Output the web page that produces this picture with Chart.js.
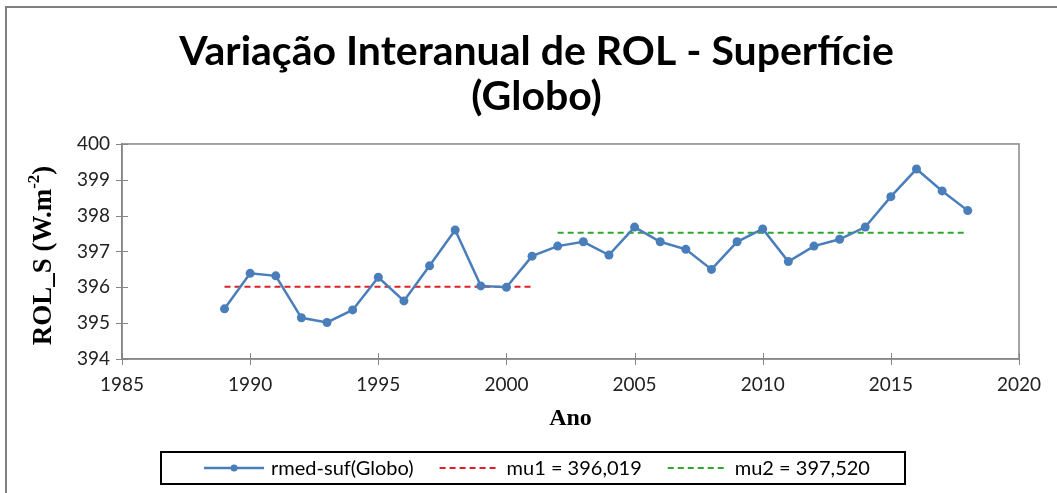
<!DOCTYPE html>
<html>
<head>
<meta charset="utf-8">
<title>Variação Interanual de ROL - Superfície (Globo)</title>
<script src="https://cdn.jsdelivr.net/npm/chart.js@4/dist/chart.umd.min.js"></script>
<style>
  html, body { margin: 0; padding: 0; background: #fff; }
  #wrap { width: 1057px; height: 493px; }
</style>
</head>
<body>
<div id="wrap"><canvas id="chart-rol" width="1057" height="493"></canvas></div>
<script>
// Série anual de ROL à superfície (média global)
const anos = [1989, 1990, 1991, 1992, 1993, 1994, 1995, 1996, 1997, 1998,
              1999, 2000, 2001, 2002, 2003, 2004, 2005, 2006, 2007, 2008,
              2009, 2010, 2011, 2012, 2013, 2014, 2015, 2016, 2017, 2018];
const rmedSuf = [395.40, 396.39, 396.32, 395.15, 395.02, 395.37, 396.28, 395.62, 396.60, 397.60,
                 396.04, 396.00, 396.87, 397.15, 397.27, 396.90, 397.68, 397.27, 397.06, 396.50,
                 397.27, 397.63, 396.72, 397.15, 397.34, 397.68, 398.53, 399.30, 398.69, 398.14];

// Médias dos dois períodos
const mu1 = 396.019;
const mu1Periodo = [1989, 2001];
const mu2 = 397.520;
const mu2Periodo = [2002, 2018];

const anosTicks = [1985, 2020];
const rolTicks = [394, 400];

const AXIS_GRAY = '#868686';
const fmt = v => v.toFixed(3).replace('.', ',');

// Moldura, marcas cruzadas, títulos dos eixos e legenda em caixa
const excelFrame = {
    id: 'excelFrame',
    beforeDraw(chart) {
        const c = chart.ctx;
        c.save();
        c.fillStyle = '#fff';
        c.fillRect(0, 0, chart.width, chart.height);
        c.strokeStyle = '#7f7f7f';
        c.lineWidth = 2;
        c.strokeRect(6, 7, chart.width + 20, chart.height + 20);
        c.restore();
    },
    afterDatasetsDraw(chart) {
        const c = chart.ctx;
        const a = chart.chartArea;
        const xs = chart.scales.x, ys = chart.scales.y;
        c.save();
        c.strokeStyle = AXIS_GRAY;
        c.lineWidth = 1.5;
        c.strokeRect(a.left, a.top, a.right - a.left, a.bottom - a.top);
        c.lineWidth = 1;
        c.beginPath();
        ys.ticks.forEach(t => {
            const y = Math.round(ys.getPixelForValue(t.value)) + 0.5;
            c.moveTo(a.left - 6, y); c.lineTo(a.left + 6, y);
        });
        xs.ticks.forEach(t => {
            const x = Math.round(xs.getPixelForValue(t.value)) + 0.5;
            c.moveTo(x, a.bottom - 6); c.lineTo(x, a.bottom + 6);
        });
        c.stroke();
        c.restore();
    },
    afterDraw(chart) {
        const c = chart.ctx;
        const a = chart.chartArea;
        c.save();
        c.fillStyle = '#000';

        // eixo x
        c.font = 'bold 24px "Liberation Serif"';
        c.textAlign = 'center';
        c.textBaseline = 'middle';
        c.fillText('Ano', (a.left + a.right) / 2, 419);

        // eixo y, com expoente
        c.save();
        c.translate(44, (a.top + a.bottom) / 2 + 4);
        c.rotate(-Math.PI / 2);
        const main = 'ROL_S (W.m', sup = '-2', tail = ')';
        const fMain = 'bold 27px "Liberation Serif"', fSup = 'bold 17px "Liberation Serif"';
        c.font = fMain; const w1 = c.measureText(main).width, w3 = c.measureText(tail).width;
        c.font = fSup; const w2 = c.measureText(sup).width;
        let x = -(w1 + w2 + w3) / 2;
        c.textAlign = 'left';
        c.font = fMain; c.fillText(main, x, 0); x += w1;
        c.font = fSup; c.fillText(sup, x, -9); x += w2;
        c.font = fMain; c.fillText(tail, x, 0);
        c.restore();

        // legenda
        const box = { left: 161, top: 452, width: 744, height: 32 };
        c.strokeStyle = '#000';
        c.lineWidth = 2;
        c.strokeRect(box.left, box.top, box.width, box.height);
        c.font = '20px Lato';
        c.textAlign = 'left';
        c.textBaseline = 'middle';
        const symW = 60, symGap = 7, itemGap = 26;
        const items = chart.data.datasets.map(ds => ({ ds, w: c.measureText(ds.label).width }));
        const total = items.reduce((s, it) => s + symW + symGap + it.w, 0) + itemGap * (items.length - 1);
        let lx = box.left + (box.width - total) / 2 + 4;
        const ly = box.top + box.height / 2;
        items.forEach(({ ds, w }) => {
            c.save();
            c.strokeStyle = ds.borderColor;
            c.lineWidth = ds.borderWidth;
            c.setLineDash(ds.borderDash || []);
            c.beginPath();
            c.moveTo(lx, ly); c.lineTo(lx + symW, ly);
            c.stroke();
            if (ds.pointRadius) {
                c.fillStyle = ds.pointBackgroundColor;
                c.beginPath();
                c.arc(lx + symW / 2, ly, 3.5, 0, Math.PI * 2);
                c.fill();
            }
            c.restore();
            c.fillStyle = '#000';
            c.fillText(ds.label, lx + symW + symGap, ly + 1);
            lx += symW + symGap + w + itemGap;
        });
        c.restore();
    }
};

const ctx = document.getElementById('chart-rol').getContext('2d');
const chart = new Chart(ctx, {
    type: 'line',
    data: {
        datasets: [
            {
                label: 'rmed-suf(Globo)',
                data: anos.map((a, i) => ({ x: a, y: rmedSuf[i] })),
                borderColor: '#4a7ebb',
                backgroundColor: '#4a7ebb',
                borderWidth: 2.5,
                pointRadius: 4.5,
                pointBackgroundColor: '#4a7ebb',
                pointBorderColor: '#4a7ebb',
                pointBorderWidth: 0,
                tension: 0,
            },
            {
                label: 'mu1 = ' + fmt(mu1),
                data: mu1Periodo.map(a => ({ x: a, y: mu1 })),
                borderColor: '#dc2028',
                borderWidth: 2,
                borderDash: [6, 4],
                pointRadius: 0,
            },
            {
                label: 'mu2 = ' + fmt(mu2),
                data: mu2Periodo.map(a => ({ x: a, y: mu2 })),
                borderColor: '#2ea52e',
                borderWidth: 2,
                borderDash: [6, 4],
                pointRadius: 0,
            },
        ]
    },
    options: {
        responsive: false,
        animation: false,
        devicePixelRatio: 1,
        layout: { padding: { left: 16, right: 0, top: 0, bottom: 0 } },
        plugins: {
            legend: { display: false },
            tooltip: { enabled: false },
            title: {
                display: true,
                text: ['Variação Interanual de ROL - Superfície', '(Globo)'],
                color: '#000',
                font: { family: 'Lato', size: 41, weight: 'bold', lineHeight: 1.08 },
                padding: { top: 30, bottom: 25.4 },
            },
        },
        scales: {
            x: {
                type: 'linear',
                min: anosTicks[0],
                max: anosTicks[1],
                ticks: {
                    stepSize: 5, color: '#222', padding: 14,
                    font: { family: 'Lato', size: 19 },
                    callback: v => String(v),
                },
                grid: { drawOnChartArea: false, drawTicks: false },
                border: { color: AXIS_GRAY, width: 1.5 },
                afterFit: s => { s.height = 134; s.paddingRight = 38; },
            },
            y: {
                min: rolTicks[0],
                max: rolTicks[1],
                ticks: { stepSize: 1, color: '#222', font: { family: 'Lato', size: 19 }, padding: 12 },
                grid: { drawOnChartArea: false, drawTicks: false },
                border: { color: AXIS_GRAY, width: 1.5 },
                afterFit: s => { s.width = 106; },
            },
        },
    },
    plugins: [excelFrame],
});
</script>
</body>
</html>
